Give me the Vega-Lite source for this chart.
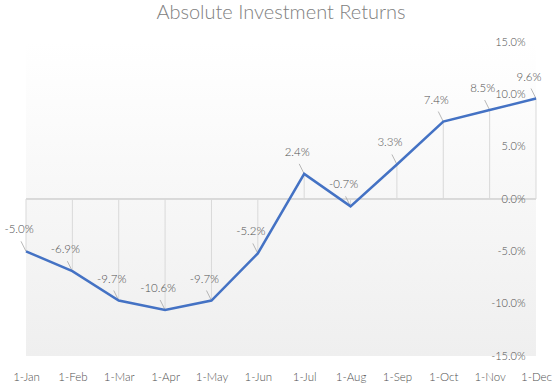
{
  "$schema": "https://vega.github.io/schema/vega-lite/v6.json",
  "width": 510,
  "height": 314,
  "autosize": "none",
  "padding": {"left": 26, "top": 42, "right": 22, "bottom": 30},
  "background": "#ffffff",
  "title": {
    "text": "Absolute Investment  Returns",
    "font": "Lato",
    "fontSize": 20,
    "fontWeight": 300,
    "color": "#808080",
    "anchor": "middle",
    "baseline": "alphabetic",
    "offset": -3
  },
  "config": {
    "view": {"stroke": null},
    "locale": {"number": {"decimal": ".", "thousands": ",", "grouping": [3], "currency": ["$", ""], "minus": "-"}},
    "axis": {"labelFont": "Lato", "labelFontSize": 11.5, "labelFontWeight": 300, "labelColor": "#505050", "domain": false, "ticks": false, "grid": false, "title": null, "zindex": 1}
  },
  "data": {
    "values": [
      {"month": "1-Jan", "value": -0.050},
      {"month": "1-Feb", "value": -0.069},
      {"month": "1-Mar", "value": -0.097},
      {"month": "1-Apr", "value": -0.106},
      {"month": "1-May", "value": -0.097},
      {"month": "1-Jun", "value": -0.052},
      {"month": "1-Jul", "value": 0.024},
      {"month": "1-Aug", "value": -0.007},
      {"month": "1-Sep", "value": 0.033},
      {"month": "1-Oct", "value": 0.074},
      {"month": "1-Nov", "value": 0.085},
      {"month": "1-Dec", "value": 0.096}
    ]
  },
  "encoding": {
    "x": {"field": "month", "type": "nominal", "sort": null, "scale": {"type": "point", "padding": 0},
          "axis": {"labelAngle": 0, "labelPadding": 15, "zindex": 1}},
    "y": {"field": "value", "type": "quantitative", "scale": {"domain": [-0.15, 0.15], "nice": false, "zero": false},
          "axis": {"orient": "right", "values": [-0.15, -0.1, -0.05, 0, 0.05, 0.1, 0.15], "format": ".1%", "labelFontSize": 11, "labelAlign": "right", "labelBaseline": "middle", "labelPadding": -11, "labelFlush": false, "labelOverlap": false, "zindex": 2}}
  },
  "layer": [
    {
      "mark": {"type": "rect", "fill": {"gradient": "linear", "x1": 0, "y1": 0, "x2": 0, "y2": 1,
               "stops": [{"offset": 0, "color": "#ffffff"}, {"offset": 1, "color": "#efefef"}]}},
      "encoding": {"x": null, "y": {"datum": 0.15}, "y2": {"datum": -0.15}}
    },
    {
      "mark": {"type": "rule", "color": "#d9d9d9", "strokeWidth": 1},
      "encoding": {"x": null, "y": {"datum": 0}}
    },
    {
      "mark": {"type": "rule", "color": "#d9d9d9", "strokeWidth": 1},
      "encoding": {"y2": {"datum": 0}}
    },
    {
      "mark": {"type": "rule", "color": "#a6a6a6", "strokeWidth": 0.8, "x2Offset": -5, "y2Offset": -10},
      "encoding": {"x2": {"field": "month"}, "y2": {"field": "value"}}
    },
    {
      "mark": {"type": "line", "color": "#4472C4", "strokeWidth": 2.5},
      "encoding": {}
    },
    {
      "mark": {"type": "text", "font": "Lato", "fontSize": 11.5, "fontWeight": 300, "color": "#505050", "dx": -7, "dy": -21, "baseline": "middle"},
      "encoding": {"text": {"field": "value", "type": "quantitative", "format": ".1%"}}
    }
  ]
}
